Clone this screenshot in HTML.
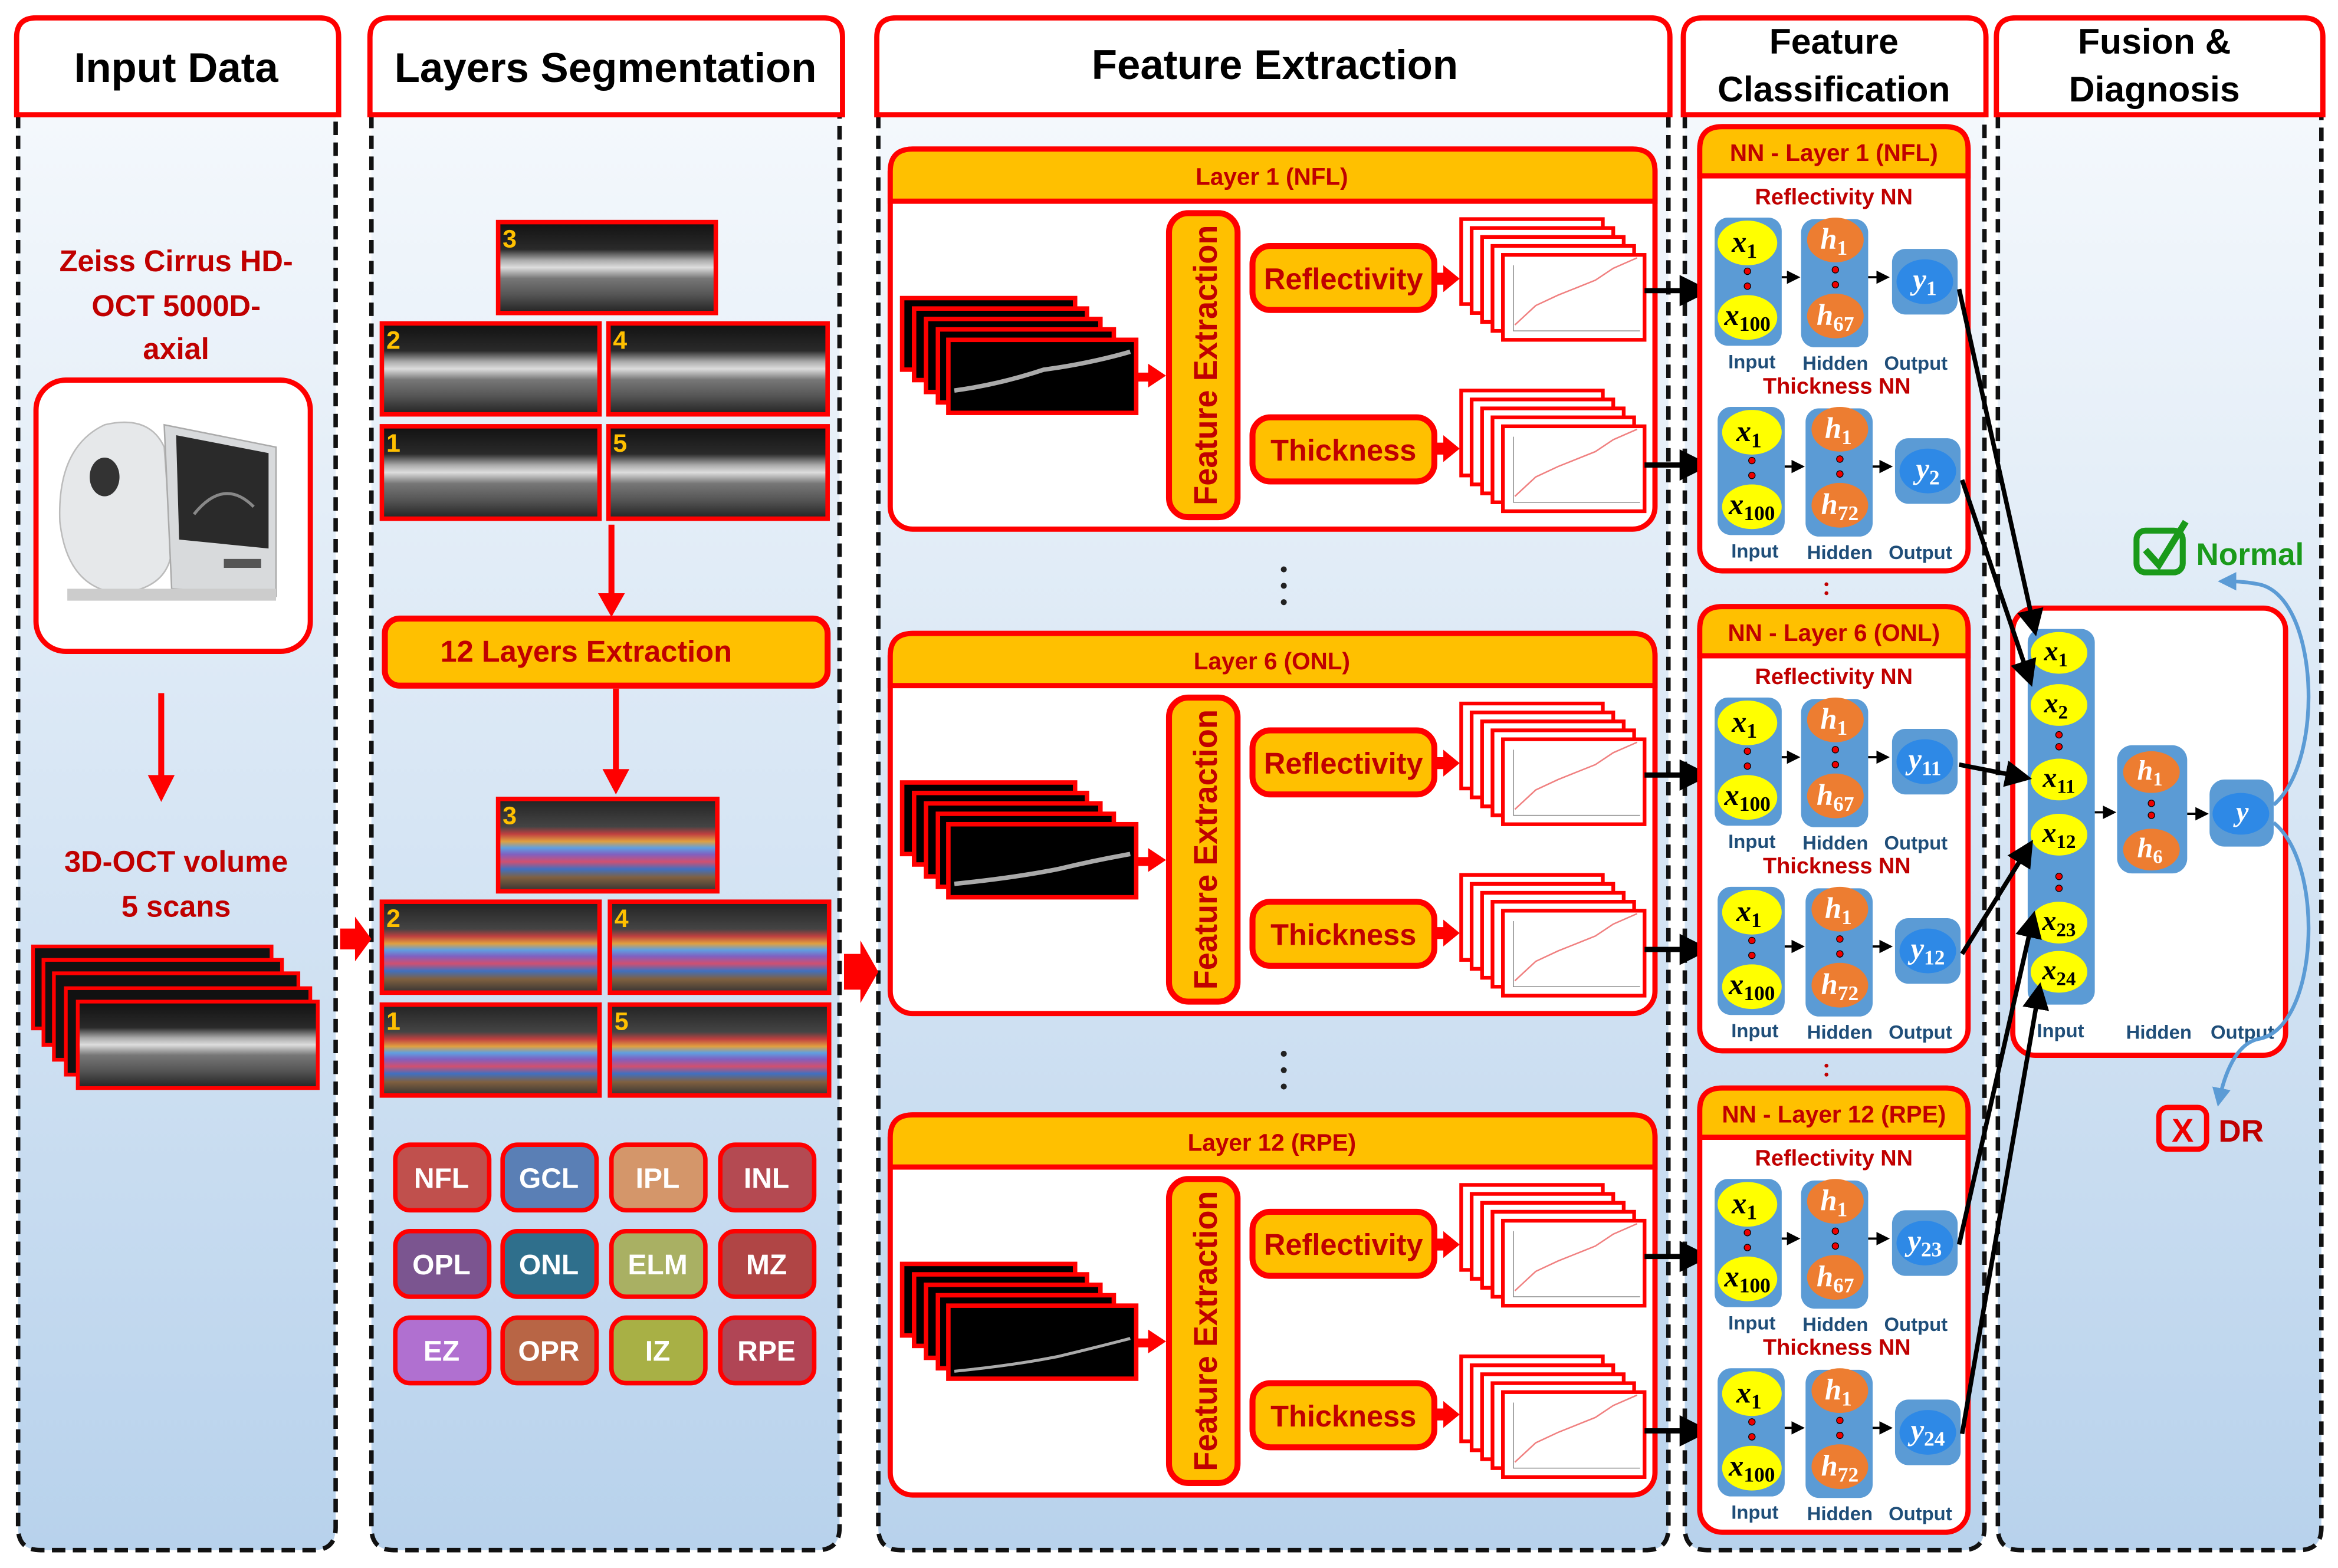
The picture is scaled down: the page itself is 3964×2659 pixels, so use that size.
<!DOCTYPE html>
<html><head><meta charset="utf-8"><style>
html,body{margin:0;padding:0;background:#fff}
svg{display:block}
.h{font-family:"Liberation Sans",sans-serif;font-weight:bold;text-anchor:middle}
.st{text-anchor:start}
.m{font-family:"Liberation Serif",serif;font-style:italic;font-weight:bold;text-anchor:middle}
.lb{font-family:"Liberation Sans",sans-serif;font-weight:bold;font-size:13px;fill:#1f4e79;text-anchor:middle}
</style></head><body>
<svg width="3964" height="2659" viewBox="0 0 1568 1052" xmlns="http://www.w3.org/2000/svg">
<defs>
<linearGradient id="bg" x1="0" y1="0" x2="0" y2="1"><stop offset="0" stop-color="#f4f8fc"/><stop offset="1" stop-color="#b8d2ec"/></linearGradient>
<linearGradient id="oct" x1="0" y1="0" x2="0" y2="1"><stop offset="0" stop-color="#111"/><stop offset=".3" stop-color="#2a2a2a"/><stop offset=".42" stop-color="#aaa"/><stop offset=".5" stop-color="#ddd"/><stop offset=".62" stop-color="#777"/><stop offset=".8" stop-color="#555"/><stop offset="1" stop-color="#222"/></linearGradient>
<linearGradient id="col" x1="0" y1="0" x2="0" y2="1"><stop offset="0" stop-color="#222"/><stop offset=".3" stop-color="#444"/><stop offset=".38" stop-color="#c04040"/><stop offset=".46" stop-color="#e0a040"/><stop offset=".53" stop-color="#60a0e0"/><stop offset=".6" stop-color="#8060c0"/><stop offset=".68" stop-color="#d05070"/><stop offset=".76" stop-color="#4070c0"/><stop offset=".85" stop-color="#806040"/><stop offset="1" stop-color="#333"/></linearGradient>
<marker id="ak" markerWidth="6" markerHeight="6" refX="5" refY="3" orient="auto" markerUnits="strokeWidth"><path d="M0,0 L6,3 L0,6Z" fill="#000"/></marker>
<marker id="ab" markerWidth="5" markerHeight="5" refX="4" refY="2.5" orient="auto" markerUnits="strokeWidth"><path d="M0,0 L5,2.5 L0,5Z" fill="#5b9bd5"/></marker>
</defs>
<rect width="1568" height="1052" fill="#fff"/>
<g stroke="#111" stroke-width="3" stroke-dasharray="9,5" fill="url(#bg)">
<path d="M12,77 V1025 Q12,1040 27,1040 H210 Q225,1040 225,1025 V77"/>
<path d="M249,77 V1025 Q249,1040 264,1040 H548 Q563,1040 563,1025 V77"/>
<path d="M589,77 V1025 Q589,1040 604,1040 H1104 Q1119,1040 1119,1025 V77"/>
<path d="M1130,77 V1025 Q1130,1040 1145,1040 H1316 Q1331,1040 1331,1025 V77"/>
<path d="M1340,77 V1025 Q1340,1040 1355,1040 H1542 Q1557,1040 1557,1025 V77"/>
</g>
<g stroke="#f00" stroke-width="3.5" fill="#fff">
<path d="M11,77 V25 Q11,12 24,12 H214 Q227,12 227,25 V77 Z"/>
<path d="M248,77 V25 Q248,12 261,12 H552 Q565,12 565,25 V77 Z"/>
<path d="M588,77 V25 Q588,12 601,12 H1107 Q1120,12 1120,25 V77 Z"/>
<path d="M1129,77 V25 Q1129,12 1142,12 H1319 Q1332,12 1332,25 V77 Z"/>
<path d="M1339,77 V25 Q1339,12 1352,12 H1545 Q1558,12 1558,25 V77 Z"/>
</g>
<g class="h" fill="#000" font-size="28">
<text x="118" y="55">Input Data</text>
<text x="406" y="55">Layers Segmentation</text>
<text x="855" y="53">Feature Extraction</text>
<text x="1230" y="36" font-size="24">Feature</text>
<text x="1230" y="68" font-size="24">Classification</text>
<text x="1445" y="36" font-size="24">Fusion &amp;</text>
<text x="1445" y="68" font-size="24">Diagnosis</text>
</g>
<g class="h" fill="#c00000" font-size="20">
<text x="118" y="182">Zeiss Cirrus HD-</text>
<text x="118" y="212">OCT 5000D-</text>
<text x="118" y="241">axial</text>
<text x="118" y="585">3D-OCT volume</text>
<text x="118" y="615">5 scans</text>
</g>
<rect x="24" y="255" width="184" height="182" rx="20" fill="#fff" stroke="#f00" stroke-width="3.5"/>
<g>
<path d="M40,350 Q38,300 70,285 Q100,278 110,300 L115,370 Q112,395 80,398 Q45,395 40,350Z" fill="#e6e8ea" stroke="#bbb"/>
<ellipse cx="70" cy="320" rx="10" ry="13" fill="#333"/>
<path d="M110,285 L185,300 L185,400 L115,395Z" fill="#d8dadc" stroke="#aaa"/>
<path d="M118,292 L180,304 L180,368 L120,362Z" fill="#2a2a2a"/>
<path d="M130,345 Q150,320 170,340" stroke="#888" fill="none" stroke-width="2"/>
<rect x="150" y="375" width="25" height="6" fill="#555"/>
<rect x="45" y="395" width="140" height="8" fill="#ccc"/>
</g>
<line x1="108" y1="465" x2="108" y2="522" stroke="#f00" stroke-width="4"/>
<path d="M99,520 L117,520 L108,538Z" fill="#f00"/>
<g stroke="#f00" stroke-width="2.5" fill="#111">
<rect x="22" y="635" width="160" height="55"/>
<rect x="29" y="644" width="160" height="57"/>
<rect x="36" y="653" width="164" height="58"/>
<rect x="44" y="663" width="164" height="58"/>
<rect x="52" y="672" width="161" height="58" fill="url(#oct)"/>
</g>
<path d="M228,623 H238 V615 L249,630 L238,645 V637 H228Z" fill="#f00"/>
<path d="M566,640 H577 V631 L589,652 L577,673 V664 H566Z" fill="#f00"/>
<g stroke="#f00" stroke-width="3" fill="url(#oct)">
<rect x="334" y="149" width="146" height="61"/>
<rect x="256" y="217" width="146" height="61"/>
<rect x="408" y="217" width="147" height="61"/>
<rect x="256" y="286" width="146" height="62"/>
<rect x="408" y="286" width="147" height="62"/>
</g>
<g stroke="#f00" stroke-width="3" fill="url(#col)">
<rect x="334" y="536" width="147" height="62"/>
<rect x="256" y="605" width="146" height="61"/>
<rect x="409" y="605" width="147" height="61"/>
<rect x="256" y="674" width="146" height="61"/>
<rect x="409" y="674" width="147" height="61"/>
</g>
<g class="h st" fill="#ffc000" font-size="17">
<text x="337" y="166">3</text><text x="259" y="234">2</text><text x="411" y="234">4</text><text x="259" y="303">1</text><text x="411" y="303">5</text>
<text x="337" y="553">3</text><text x="259" y="622">2</text><text x="412" y="622">4</text><text x="259" y="691">1</text><text x="412" y="691">5</text>
</g>
<line x1="410" y1="352" x2="410" y2="400" stroke="#f00" stroke-width="4"/><path d="M401,398 L419,398 L410,414Z" fill="#f00"/>
<rect x="258" y="415" width="297" height="45" rx="10" fill="#ffc000" stroke="#f00" stroke-width="4"/>
<text class="h" x="393" y="444" font-size="20" fill="#c00000">12 Layers Extraction</text>
<line x1="413" y1="462" x2="413" y2="518" stroke="#f00" stroke-width="4"/><path d="M404,516 L422,516 L413,533Z" fill="#f00"/>
<g stroke="#f00" stroke-width="3">
<rect x="265" y="768" width="63" height="44" rx="10" fill="#c0504d"/>
<rect x="337" y="768" width="63" height="44" rx="10" fill="#5a7fb5"/>
<rect x="410" y="768" width="63" height="44" rx="10" fill="#d4966a"/>
<rect x="483" y="768" width="63" height="44" rx="10" fill="#b44a52"/>
<rect x="265" y="826" width="63" height="44" rx="10" fill="#7b5590"/>
<rect x="337" y="826" width="63" height="44" rx="10" fill="#2f6f8c"/>
<rect x="410" y="826" width="63" height="44" rx="10" fill="#a9b063"/>
<rect x="483" y="826" width="63" height="44" rx="10" fill="#b04545"/>
<rect x="265" y="884" width="63" height="44" rx="10" fill="#b070d0"/>
<rect x="337" y="884" width="63" height="44" rx="10" fill="#b86545"/>
<rect x="410" y="884" width="63" height="44" rx="10" fill="#a8b045"/>
<rect x="483" y="884" width="63" height="44" rx="10" fill="#b04555"/>
</g>
<g class="h" fill="#fff" font-size="19">
<text x="296" y="797">NFL</text><text x="368" y="797">GCL</text><text x="441" y="797">IPL</text><text x="514" y="797">INL</text>
<text x="296" y="855">OPL</text><text x="368" y="855">ONL</text><text x="441" y="855">ELM</text><text x="514" y="855">MZ</text>
<text x="296" y="913">EZ</text><text x="368" y="913">OPR</text><text x="441" y="913">IZ</text><text x="514" y="913">RPE</text>
</g>
<g stroke="#f00" stroke-width="3.5" fill="#fff">
<rect x="597" y="100" width="513" height="255" rx="15"/>
<rect x="597" y="425" width="513" height="255" rx="15"/>
<rect x="597" y="748" width="513" height="255" rx="15"/>
</g>
<g fill="#ffc000" stroke="#f00" stroke-width="3.5">
<path d="M597,135 V115 Q597,100 612,100 H1095 Q1110,100 1110,115 V135Z"/>
<path d="M597,460 V440 Q597,425 612,425 H1095 Q1110,425 1110,440 V460Z"/>
<path d="M597,783 V763 Q597,748 612,748 H1095 Q1110,748 1110,763 V783Z"/>
</g>
<g class="h" fill="#c00000" font-size="16">
<text x="853" y="124">Layer 1 (NFL)</text>
<text x="853" y="449">Layer 6 (ONL)</text>
<text x="853" y="772">Layer 12 (RPE)</text>
</g>
<g fill="#222"><circle cx="861" cy="382" r="2"/><circle cx="861" cy="393" r="2"/><circle cx="861" cy="404" r="2"/><circle cx="861" cy="707" r="2"/><circle cx="861" cy="718" r="2"/><circle cx="861" cy="729" r="2"/></g>

<g>
<g stroke="#f00" stroke-width="3" fill="#000">
<rect x="605" y="200" width="116" height="48"/><rect x="613" y="207" width="116" height="48"/><rect x="621" y="214" width="117" height="49"/><rect x="629" y="221" width="118" height="49"/><rect x="636" y="228" width="126" height="49"/>
</g>
<path d="M640,262 Q670,258 700,248 Q730,244 758,236" stroke="#aaa" stroke-width="3" fill="none"/>
<path d="M762,250 H770 V244 L782,252 L770,260 V256 H762Z" fill="#f00"/>
<rect x="784" y="143" width="46" height="204" rx="13" fill="#ffc000" stroke="#f00" stroke-width="4"/>
<text class="h" transform="translate(816,245) rotate(-90)" font-size="22" fill="#c00000" textLength="188" lengthAdjust="spacingAndGlyphs">Feature Extraction</text>
<rect x="840" y="165" width="122" height="43" rx="12" fill="#ffc000" stroke="#f00" stroke-width="4"/>
<text class="h" x="901" y="194" font-size="20" fill="#c00000">Reflectivity</text>
<rect x="840" y="280" width="122" height="43" rx="12" fill="#ffc000" stroke="#f00" stroke-width="4"/>
<text class="h" x="901" y="309" font-size="20" fill="#c00000">Thickness</text>
<path d="M962,183 H968 V178 L979,187 L968,196 V191 H962Z" fill="#f00"/>
<path d="M962,297 H968 V292 L979,301 L968,310 V305 H962Z" fill="#f00"/>
<g stroke="#f00" stroke-width="2.5" fill="#fff">
<rect x="980" y="147" width="95" height="57"/><rect x="987" y="153" width="95" height="57"/><rect x="994" y="159" width="95" height="57"/><rect x="1001" y="165" width="95" height="57"/><rect x="1008" y="171" width="95" height="57"/>
<rect x="980" y="262" width="95" height="57"/><rect x="987" y="268" width="95" height="57"/><rect x="994" y="274" width="95" height="57"/><rect x="1001" y="280" width="95" height="57"/><rect x="1008" y="286" width="95" height="57"/>
</g>
<g stroke="#888" stroke-width=".6" fill="none"><path d="M1015,178 V222 H1100"/><path d="M1015,293 V337 H1100"/></g>
<g stroke="#f08080" stroke-width="1" fill="none">
<polyline points="1016,218 1030,205 1045,198 1060,192 1070,188 1082,180 1098,173"/>
<polyline points="1016,333 1030,320 1045,313 1060,307 1070,303 1082,295 1098,288"/>
</g>
<line x1="1103" y1="195" x2="1144" y2="195" stroke="#000" stroke-width="3.5" marker-end="url(#ak)"/>
<line x1="1103" y1="312" x2="1144" y2="312" stroke="#000" stroke-width="3.5" marker-end="url(#ak)"/>
</g>
<g transform="translate(0,325)">
<g stroke="#f00" stroke-width="3" fill="#000">
<rect x="605" y="200" width="116" height="48"/><rect x="613" y="207" width="116" height="48"/><rect x="621" y="214" width="117" height="49"/><rect x="629" y="221" width="118" height="49"/><rect x="636" y="228" width="126" height="49"/>
</g>
<path d="M640,268 Q680,264 710,258 Q735,252 758,248" stroke="#aaa" stroke-width="3" fill="none"/>
<path d="M762,250 H770 V244 L782,252 L770,260 V256 H762Z" fill="#f00"/>
<rect x="784" y="143" width="46" height="204" rx="13" fill="#ffc000" stroke="#f00" stroke-width="4"/>
<text class="h" transform="translate(816,245) rotate(-90)" font-size="22" fill="#c00000" textLength="188" lengthAdjust="spacingAndGlyphs">Feature Extraction</text>
<rect x="840" y="165" width="122" height="43" rx="12" fill="#ffc000" stroke="#f00" stroke-width="4"/>
<text class="h" x="901" y="194" font-size="20" fill="#c00000">Reflectivity</text>
<rect x="840" y="280" width="122" height="43" rx="12" fill="#ffc000" stroke="#f00" stroke-width="4"/>
<text class="h" x="901" y="309" font-size="20" fill="#c00000">Thickness</text>
<path d="M962,183 H968 V178 L979,187 L968,196 V191 H962Z" fill="#f00"/>
<path d="M962,297 H968 V292 L979,301 L968,310 V305 H962Z" fill="#f00"/>
<g stroke="#f00" stroke-width="2.5" fill="#fff">
<rect x="980" y="147" width="95" height="57"/><rect x="987" y="153" width="95" height="57"/><rect x="994" y="159" width="95" height="57"/><rect x="1001" y="165" width="95" height="57"/><rect x="1008" y="171" width="95" height="57"/>
<rect x="980" y="262" width="95" height="57"/><rect x="987" y="268" width="95" height="57"/><rect x="994" y="274" width="95" height="57"/><rect x="1001" y="280" width="95" height="57"/><rect x="1008" y="286" width="95" height="57"/>
</g>
<g stroke="#888" stroke-width=".6" fill="none"><path d="M1015,178 V222 H1100"/><path d="M1015,293 V337 H1100"/></g>
<g stroke="#f08080" stroke-width="1" fill="none">
<polyline points="1016,218 1030,205 1045,198 1060,192 1070,188 1082,180 1098,173"/>
<polyline points="1016,333 1030,320 1045,313 1060,307 1070,303 1082,295 1098,288"/>
</g>
<line x1="1103" y1="195" x2="1144" y2="195" stroke="#000" stroke-width="3.5" marker-end="url(#ak)"/>
<line x1="1103" y1="312" x2="1144" y2="312" stroke="#000" stroke-width="3.5" marker-end="url(#ak)"/>
</g>
<g transform="translate(0,648)">
<g stroke="#f00" stroke-width="3" fill="#000">
<rect x="605" y="200" width="116" height="48"/><rect x="613" y="207" width="116" height="48"/><rect x="621" y="214" width="117" height="49"/><rect x="629" y="221" width="118" height="49"/><rect x="636" y="228" width="126" height="49"/>
</g>
<path d="M640,272 Q680,268 710,262 Q735,256 758,250" stroke="#aaa" stroke-width="2" fill="none"/>
<path d="M762,250 H770 V244 L782,252 L770,260 V256 H762Z" fill="#f00"/>
<rect x="784" y="143" width="46" height="204" rx="13" fill="#ffc000" stroke="#f00" stroke-width="4"/>
<text class="h" transform="translate(816,245) rotate(-90)" font-size="22" fill="#c00000" textLength="188" lengthAdjust="spacingAndGlyphs">Feature Extraction</text>
<rect x="840" y="165" width="122" height="43" rx="12" fill="#ffc000" stroke="#f00" stroke-width="4"/>
<text class="h" x="901" y="194" font-size="20" fill="#c00000">Reflectivity</text>
<rect x="840" y="280" width="122" height="43" rx="12" fill="#ffc000" stroke="#f00" stroke-width="4"/>
<text class="h" x="901" y="309" font-size="20" fill="#c00000">Thickness</text>
<path d="M962,183 H968 V178 L979,187 L968,196 V191 H962Z" fill="#f00"/>
<path d="M962,297 H968 V292 L979,301 L968,310 V305 H962Z" fill="#f00"/>
<g stroke="#f00" stroke-width="2.5" fill="#fff">
<rect x="980" y="147" width="95" height="57"/><rect x="987" y="153" width="95" height="57"/><rect x="994" y="159" width="95" height="57"/><rect x="1001" y="165" width="95" height="57"/><rect x="1008" y="171" width="95" height="57"/>
<rect x="980" y="262" width="95" height="57"/><rect x="987" y="268" width="95" height="57"/><rect x="994" y="274" width="95" height="57"/><rect x="1001" y="280" width="95" height="57"/><rect x="1008" y="286" width="95" height="57"/>
</g>
<g stroke="#888" stroke-width=".6" fill="none"><path d="M1015,178 V222 H1100"/><path d="M1015,293 V337 H1100"/></g>
<g stroke="#f08080" stroke-width="1" fill="none">
<polyline points="1016,218 1030,205 1045,198 1060,192 1070,188 1082,180 1098,173"/>
<polyline points="1016,333 1030,320 1045,313 1060,307 1070,303 1082,295 1098,288"/>
</g>
<line x1="1103" y1="195" x2="1144" y2="195" stroke="#000" stroke-width="3.5" marker-end="url(#ak)"/>
<line x1="1103" y1="312" x2="1144" y2="312" stroke="#000" stroke-width="3.5" marker-end="url(#ak)"/>
</g>

<g stroke="#f00" stroke-width="3.5" fill="#fff">
<rect x="1140" y="85" width="180" height="298" rx="15"/>
<rect x="1140" y="407" width="180" height="298" rx="15"/>
<rect x="1140" y="730" width="180" height="298" rx="15"/>
</g>
<g fill="#ffc000" stroke="#f00" stroke-width="3.5">
<path d="M1140,118 V100 Q1140,85 1155,85 H1305 Q1320,85 1320,100 V118Z"/>
<path d="M1140,440 V422 Q1140,407 1155,407 H1305 Q1320,407 1320,422 V440Z"/>
<path d="M1140,763 V745 Q1140,730 1155,730 H1305 Q1320,730 1320,745 V763Z"/>
</g>
<g class="h" fill="#c00000" font-size="16">
<text x="1230" y="108">NN - Layer 1 (NFL)</text>
<text x="1230" y="430">NN - Layer 6 (ONL)</text>
<text x="1230" y="753">NN - Layer 12 (RPE)</text>
</g>
<g class="h" fill="#c00000" font-size="15">
<text x="1230" y="137">Reflectivity NN</text><text x="1232" y="264">Thickness NN</text>
<text x="1230" y="459">Reflectivity NN</text><text x="1232" y="586">Thickness NN</text>
<text x="1230" y="782">Reflectivity NN</text><text x="1232" y="909">Thickness NN</text>
</g>
<g fill="#c00000"><circle cx="1225" cy="392" r="1.3"/><circle cx="1225" cy="398" r="1.3"/><circle cx="1225" cy="715" r="1.3"/><circle cx="1225" cy="721" r="1.3"/></g>

<g fill="#5b9bd5">
<rect x="1150" y="146" width="45" height="86" rx="9"/><rect x="1208" y="147" width="45" height="86" rx="9"/><rect x="1269" y="167" width="44" height="44" rx="9"/>
<rect x="1152" y="273" width="45" height="86" rx="9"/><rect x="1211" y="274" width="45" height="86" rx="9"/><rect x="1271" y="294" width="44" height="44" rx="9"/>
<rect x="1150" y="468" width="45" height="86" rx="9"/><rect x="1208" y="469" width="45" height="86" rx="9"/><rect x="1269" y="489" width="44" height="44" rx="9"/>
<rect x="1152" y="595" width="45" height="86" rx="9"/><rect x="1211" y="596" width="45" height="86" rx="9"/><rect x="1271" y="616" width="44" height="44" rx="9"/>
<rect x="1150" y="791" width="45" height="86" rx="9"/><rect x="1208" y="792" width="45" height="86" rx="9"/><rect x="1269" y="812" width="44" height="44" rx="9"/>
<rect x="1152" y="918" width="45" height="86" rx="9"/><rect x="1211" y="919" width="45" height="86" rx="9"/><rect x="1271" y="939" width="44" height="44" rx="9"/>
</g>
<g fill="#ffff00">
<ellipse cx="1172" cy="163" rx="20" ry="15"/><ellipse cx="1172" cy="213" rx="20" ry="15"/>
<ellipse cx="1175" cy="290" rx="20" ry="15"/><ellipse cx="1175" cy="340" rx="20" ry="15"/>
<ellipse cx="1172" cy="485" rx="20" ry="15"/><ellipse cx="1172" cy="535" rx="20" ry="15"/>
<ellipse cx="1175" cy="612" rx="20" ry="15"/><ellipse cx="1175" cy="662" rx="20" ry="15"/>
<ellipse cx="1172" cy="808" rx="20" ry="15"/><ellipse cx="1172" cy="858" rx="20" ry="15"/>
<ellipse cx="1175" cy="935" rx="20" ry="15"/><ellipse cx="1175" cy="985" rx="20" ry="15"/>
</g>
<g fill="#ed7d31">
<ellipse cx="1231" cy="161" rx="19" ry="15"/><ellipse cx="1231" cy="212" rx="19" ry="15"/>
<ellipse cx="1234" cy="288" rx="19" ry="15"/><ellipse cx="1234" cy="339" rx="19" ry="15"/>
<ellipse cx="1231" cy="483" rx="19" ry="15"/><ellipse cx="1231" cy="534" rx="19" ry="15"/>
<ellipse cx="1234" cy="610" rx="19" ry="15"/><ellipse cx="1234" cy="661" rx="19" ry="15"/>
<ellipse cx="1231" cy="806" rx="19" ry="15"/><ellipse cx="1231" cy="857" rx="19" ry="15"/>
<ellipse cx="1234" cy="933" rx="19" ry="15"/><ellipse cx="1234" cy="984" rx="19" ry="15"/>
</g>
<g fill="#2e89e6">
<ellipse cx="1291" cy="189" rx="19" ry="15"/><ellipse cx="1293" cy="316" rx="19" ry="15"/>
<ellipse cx="1291" cy="511" rx="19" ry="15"/><ellipse cx="1293" cy="638" rx="19" ry="15"/>
<ellipse cx="1291" cy="834" rx="19" ry="15"/><ellipse cx="1293" cy="961" rx="19" ry="15"/>
</g>
<g fill="#e00" stroke="#000" stroke-width=".5">
<circle cx="1172" cy="182" r="2.2"/><circle cx="1172" cy="192" r="2.2"/><circle cx="1231" cy="181" r="2.2"/><circle cx="1231" cy="191" r="2.2"/>
<circle cx="1175" cy="309" r="2.2"/><circle cx="1175" cy="319" r="2.2"/><circle cx="1234" cy="308" r="2.2"/><circle cx="1234" cy="318" r="2.2"/>
<circle cx="1172" cy="504" r="2.2"/><circle cx="1172" cy="514" r="2.2"/><circle cx="1231" cy="503" r="2.2"/><circle cx="1231" cy="513" r="2.2"/>
<circle cx="1175" cy="631" r="2.2"/><circle cx="1175" cy="641" r="2.2"/><circle cx="1234" cy="630" r="2.2"/><circle cx="1234" cy="640" r="2.2"/>
<circle cx="1172" cy="827" r="2.2"/><circle cx="1172" cy="837" r="2.2"/><circle cx="1231" cy="826" r="2.2"/><circle cx="1231" cy="836" r="2.2"/>
<circle cx="1175" cy="954" r="2.2"/><circle cx="1175" cy="964" r="2.2"/><circle cx="1234" cy="953" r="2.2"/><circle cx="1234" cy="963" r="2.2"/>
</g>
<g stroke="#000" stroke-width="1.5" marker-end="url(#ak)">
<line x1="1195" y1="186" x2="1206" y2="186"/><line x1="1253" y1="186" x2="1266" y2="186"/>
<line x1="1197" y1="313" x2="1209" y2="313"/><line x1="1256" y1="313" x2="1268" y2="313"/>
<line x1="1195" y1="508" x2="1206" y2="508"/><line x1="1253" y1="508" x2="1266" y2="508"/>
<line x1="1197" y1="635" x2="1209" y2="635"/><line x1="1256" y1="635" x2="1268" y2="635"/>
<line x1="1195" y1="831" x2="1206" y2="831"/><line x1="1253" y1="831" x2="1266" y2="831"/>
<line x1="1197" y1="958" x2="1209" y2="958"/><line x1="1256" y1="958" x2="1268" y2="958"/>
</g>
<g class="m" font-size="20" fill="#000">
<text x="1170" y="169">x<tspan font-size="14" font-style="normal" dy="4">1</tspan></text><text x="1172" y="218">x<tspan font-size="14" font-style="normal" dy="4">100</tspan></text>
<text x="1173" y="296">x<tspan font-size="14" font-style="normal" dy="4">1</tspan></text><text x="1175" y="345">x<tspan font-size="14" font-style="normal" dy="4">100</tspan></text>
<text x="1170" y="491">x<tspan font-size="14" font-style="normal" dy="4">1</tspan></text><text x="1172" y="540">x<tspan font-size="14" font-style="normal" dy="4">100</tspan></text>
<text x="1173" y="618">x<tspan font-size="14" font-style="normal" dy="4">1</tspan></text><text x="1175" y="667">x<tspan font-size="14" font-style="normal" dy="4">100</tspan></text>
<text x="1170" y="814">x<tspan font-size="14" font-style="normal" dy="4">1</tspan></text><text x="1172" y="863">x<tspan font-size="14" font-style="normal" dy="4">100</tspan></text>
<text x="1173" y="941">x<tspan font-size="14" font-style="normal" dy="4">1</tspan></text><text x="1175" y="990">x<tspan font-size="14" font-style="normal" dy="4">100</tspan></text>
</g>
<g class="m" font-size="20" fill="#fff">
<text x="1230" y="167">h<tspan font-size="14" font-style="normal" dy="4">1</tspan></text><text x="1231" y="218">h<tspan font-size="14" font-style="normal" dy="4">67</tspan></text>
<text x="1233" y="294">h<tspan font-size="14" font-style="normal" dy="4">1</tspan></text><text x="1234" y="345">h<tspan font-size="14" font-style="normal" dy="4">72</tspan></text>
<text x="1230" y="489">h<tspan font-size="14" font-style="normal" dy="4">1</tspan></text><text x="1231" y="540">h<tspan font-size="14" font-style="normal" dy="4">67</tspan></text>
<text x="1233" y="616">h<tspan font-size="14" font-style="normal" dy="4">1</tspan></text><text x="1234" y="667">h<tspan font-size="14" font-style="normal" dy="4">72</tspan></text>
<text x="1230" y="812">h<tspan font-size="14" font-style="normal" dy="4">1</tspan></text><text x="1231" y="863">h<tspan font-size="14" font-style="normal" dy="4">67</tspan></text>
<text x="1233" y="939">h<tspan font-size="14" font-style="normal" dy="4">1</tspan></text><text x="1234" y="990">h<tspan font-size="14" font-style="normal" dy="4">72</tspan></text>
<text x="1291" y="194">y<tspan font-size="14" font-style="normal" dy="4">1</tspan></text><text x="1293" y="321">y<tspan font-size="14" font-style="normal" dy="4">2</tspan></text>
<text x="1291" y="516">y<tspan font-size="14" font-style="normal" dy="4">11</tspan></text><text x="1293" y="643">y<tspan font-size="14" font-style="normal" dy="4">12</tspan></text>
<text x="1291" y="839">y<tspan font-size="14" font-style="normal" dy="4">23</tspan></text><text x="1293" y="966">y<tspan font-size="14" font-style="normal" dy="4">24</tspan></text>
</g>
<g class="lb">
<text x="1175" y="247">Input</text><text x="1231" y="248">Hidden</text><text x="1285" y="248">Output</text>
<text x="1177" y="374">Input</text><text x="1234" y="375">Hidden</text><text x="1288" y="375">Output</text>
<text x="1175" y="569">Input</text><text x="1231" y="570">Hidden</text><text x="1285" y="570">Output</text>
<text x="1177" y="696">Input</text><text x="1234" y="697">Hidden</text><text x="1288" y="697">Output</text>
<text x="1175" y="892">Input</text><text x="1231" y="893">Hidden</text><text x="1285" y="893">Output</text>
<text x="1177" y="1019">Input</text><text x="1234" y="1020">Hidden</text><text x="1288" y="1020">Output</text>
</g>

<rect x="1350" y="408" width="183" height="300" rx="15" fill="#fff" stroke="#f00" stroke-width="3.5"/>
<g fill="#5b9bd5">
<rect x="1360" y="422" width="45" height="252" rx="9"/>
<rect x="1420" y="500" width="47" height="86" rx="10"/>
<rect x="1482" y="523" width="43" height="45" rx="10"/>
</g>
<g fill="#ffff00">
<ellipse cx="1381" cy="438" rx="19" ry="14"/><ellipse cx="1381" cy="473" rx="19" ry="14"/><ellipse cx="1381" cy="523" rx="19" ry="14"/><ellipse cx="1381" cy="560" rx="19" ry="14"/><ellipse cx="1381" cy="619" rx="19" ry="14"/><ellipse cx="1381" cy="652" rx="19" ry="14"/>
</g>
<g fill="#ed7d31"><ellipse cx="1443" cy="518" rx="19" ry="14"/><ellipse cx="1443" cy="570" rx="19" ry="14"/></g>
<ellipse cx="1503" cy="546" rx="19" ry="14" fill="#2e89e6"/>
<g fill="#e00" stroke="#000" stroke-width=".5"><circle cx="1381" cy="493" r="2.2"/><circle cx="1381" cy="501" r="2.2"/><circle cx="1381" cy="588" r="2.2"/><circle cx="1381" cy="596" r="2.2"/><circle cx="1443" cy="539" r="2.2"/><circle cx="1443" cy="547" r="2.2"/></g>
<g stroke="#000" stroke-width="1.5" marker-end="url(#ak)"><line x1="1405" y1="545" x2="1418" y2="545"/><line x1="1467" y1="546" x2="1480" y2="546"/></g>
<g class="m" font-size="19" fill="#000">
<text x="1379" y="443">x<tspan font-size="13" font-style="normal" dy="4">1</tspan></text>
<text x="1379" y="478">x<tspan font-size="13" font-style="normal" dy="4">2</tspan></text>
<text x="1381" y="528">x<tspan font-size="13" font-style="normal" dy="4">11</tspan></text>
<text x="1381" y="565">x<tspan font-size="13" font-style="normal" dy="4">12</tspan></text>
<text x="1381" y="624">x<tspan font-size="13" font-style="normal" dy="4">23</tspan></text>
<text x="1381" y="657">x<tspan font-size="13" font-style="normal" dy="4">24</tspan></text>
</g>
<g class="m" font-size="19" fill="#fff">
<text x="1442" y="523">h<tspan font-size="13" font-style="normal" dy="4">1</tspan></text>
<text x="1442" y="575">h<tspan font-size="13" font-style="normal" dy="4">6</tspan></text>
<text x="1504" y="551">y</text>
</g>
<g class="lb"><text x="1382" y="696">Input</text><text x="1448" y="697">Hidden</text><text x="1504" y="697">Output</text></g>

<g stroke="#000" stroke-width="3" fill="none" marker-end="url(#ak)">
<line x1="1314" y1="194" x2="1365" y2="424"/>
<line x1="1316" y1="322" x2="1362" y2="458"/>
<line x1="1314" y1="513" x2="1360" y2="522"/>
<line x1="1316" y1="640" x2="1362" y2="566"/>
<line x1="1314" y1="835" x2="1364" y2="614"/>
<line x1="1316" y1="962" x2="1368" y2="662"/>
</g>
<g stroke="#5b9bd5" stroke-width="2.5" fill="none" marker-end="url(#ab)">
<path d="M1525,540 C1560,510 1555,400 1515,392 C1505,390 1498,390 1490,390"/>
<path d="M1525,552 C1560,580 1555,690 1515,697 C1500,700 1492,720 1488,740"/>
</g>
<rect x="1433" y="356" width="31" height="28" rx="6" fill="none" stroke="#1a9a1a" stroke-width="4"/>
<path d="M1439,369 L1448,379 L1466,350" stroke="#1a9a1a" stroke-width="4.5" fill="none"/>
<text class="h st" x="1473" y="379" font-size="21" fill="#1a9a1a">Normal</text>
<rect x="1448" y="743" width="32" height="28" rx="6" fill="none" stroke="#f00" stroke-width="3.5"/>
<text class="h" x="1464" y="766" font-size="22" fill="#e00">X</text>
<text class="h st" x="1488" y="766" font-size="21" fill="#c00000">DR</text>
</svg>
</body></html>
